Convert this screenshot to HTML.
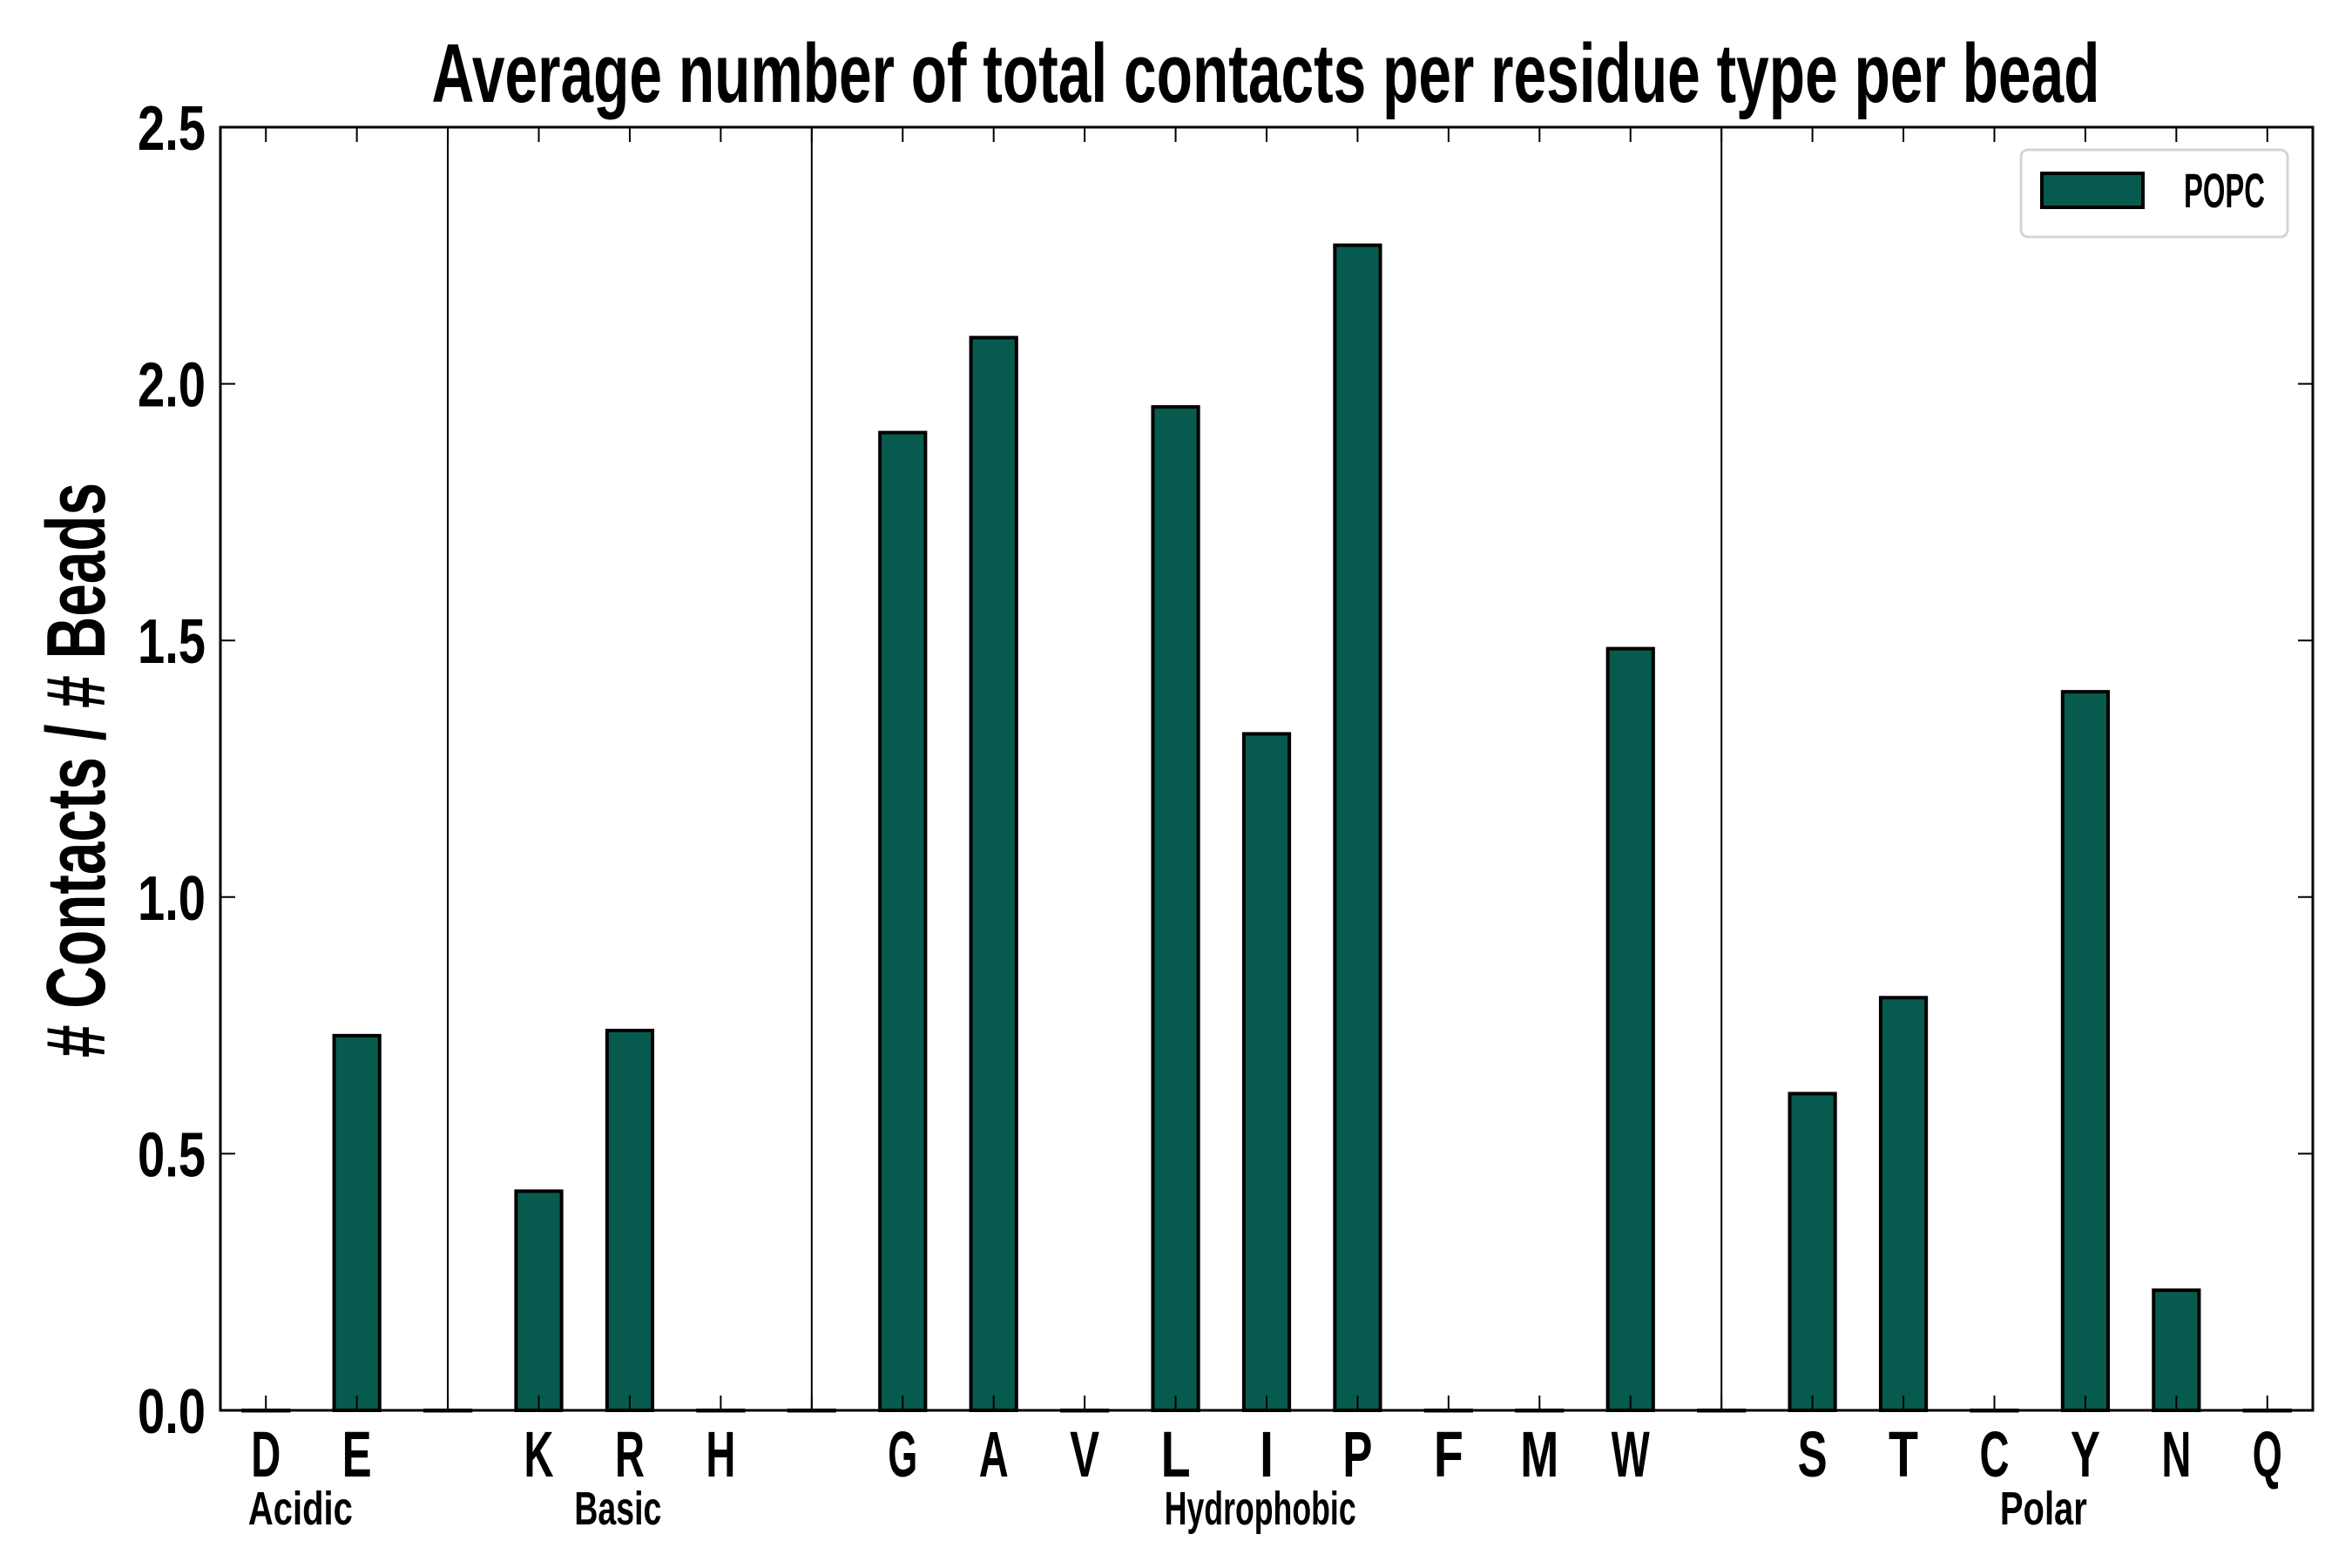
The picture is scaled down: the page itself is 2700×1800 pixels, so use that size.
<!DOCTYPE html>
<html><head><meta charset="utf-8"><style>
html,body{margin:0;padding:0;background:#fff;}
svg{display:block;}
text{font-family:"Liberation Sans",sans-serif;font-weight:bold;fill:#000;}
</style></head><body>
<svg id="chart" width="2700" height="1800" viewBox="0 0 2700 1800" xmlns="http://www.w3.org/2000/svg">
<rect x="0" y="0" width="2700" height="1800" fill="#fff"/>
<text x="1453" y="117" text-anchor="middle" font-size="96" textLength="1915" lengthAdjust="spacingAndGlyphs">Average number of total contacts per residue type per bead</text>
<text transform="translate(120,884) rotate(-90)" text-anchor="middle" font-size="96" textLength="660" lengthAdjust="spacingAndGlyphs"># Contacts / # Beads</text>
<g id="plot"></g>
<g>
<rect x="2320" y="172" width="306" height="100" rx="8" fill="#fff" stroke="#d4d4d4" stroke-width="3"/>
<rect x="2344" y="199" width="116" height="39" fill="#075b4e" stroke="#000" stroke-width="4"/>
<text x="2507" y="238" font-size="56" textLength="93" lengthAdjust="spacingAndGlyphs">POPC</text>
</g>
</svg>
<script>
const categories = ["D","E","","K","R","H","","G","A","V","L","I","P","F","M","W","","S","T","C","Y","N","Q"];
const values = [0,0.73,0,0.427,0.74,0,0,1.905,2.09,0,1.955,1.318,2.27,0,0,1.484,0,0.617,0.804,0,1.40,0.234,0];
const separators = [2,6,16];
const yTicks = [0,0.5,1.0,1.5,2.0,2.5];
const yTickLabels = ["0.0","0.5","1.0","1.5","2.0","2.5"];
const groupNames = ["Acidic","Basic","Hydrophobic","Polar"];
const groupCenters = [0.38,3.87,10.93,19.54];

const L=253,R=2655,T=146,B=1619;
const xmin=-0.5,xmax=22.5,ymin=0,ymax=2.5;
const NS="http://www.w3.org/2000/svg";
function xs(i){return L+(i-xmin)/(xmax-xmin)*(R-L);}
function ys(v){return B-(v-ymin)/(ymax-ymin)*(B-T);}
const g=document.getElementById('plot');
function mk(tag,attrs){const e=document.createElementNS(NS,tag);for(const k in attrs)e.setAttribute(k,attrs[k]);g.appendChild(e);return e;}
const bw=(R-L)/(xmax-xmin)*0.5;

separators.forEach(s=>{
  const e=mk('line',{x1:xs(s),x2:xs(s),y1:T,y2:B,stroke:'#000','stroke-width':2});
  
  
});
values.forEach((v,i)=>{
  const y=ys(v);
  const e=mk('rect',{x:xs(i)-bw/2,y:y,width:bw,height:Math.max(B-y,0.5),fill:'#075b4e',stroke:'#000','stroke-width':4});
  
  
});
categories.forEach((c,i)=>{
  const a=mk('line',{x1:xs(i),x2:xs(i),y1:B,y2:B-17,stroke:'#000','stroke-width':2});
  
  
  const b=mk('line',{x1:xs(i),x2:xs(i),y1:T,y2:T+17,stroke:'#000','stroke-width':2});
  
  
  if(c){
    const w=(c==='M'||c==='W')?44:(c==='I'?16:34);
    const t=mk('text',{x:xs(i),y:1695,'text-anchor':'middle','font-size':74,textLength:w,lengthAdjust:'spacingAndGlyphs'});
    t.textContent=c;
    
    
  }
});
yTicks.forEach((v,k)=>{
  const a=mk('line',{x1:L,x2:L+17,y1:ys(v),y2:ys(v),stroke:'#000','stroke-width':2});
  
  
  const b=mk('line',{x1:R,x2:R-17,y1:ys(v),y2:ys(v),stroke:'#000','stroke-width':2});
  
  
  const t=mk('text',{x:236,y:ys(v)+26,'text-anchor':'end','font-size':72,textLength:78,lengthAdjust:'spacingAndGlyphs'});
  t.textContent=yTickLabels[k];
  
  
});
groupNames.forEach((n,k)=>{
  const t=mk('text',{x:xs(groupCenters[k]),y:1750,'text-anchor':'middle','font-size':54,textLength:n.length*20,lengthAdjust:'spacingAndGlyphs'});
  t.textContent=n;
  
  
});
const f=mk('rect',{x:L,y:T,width:R-L,height:B-T,fill:'none',stroke:'#000','stroke-width':3});


</script>
</body></html>
